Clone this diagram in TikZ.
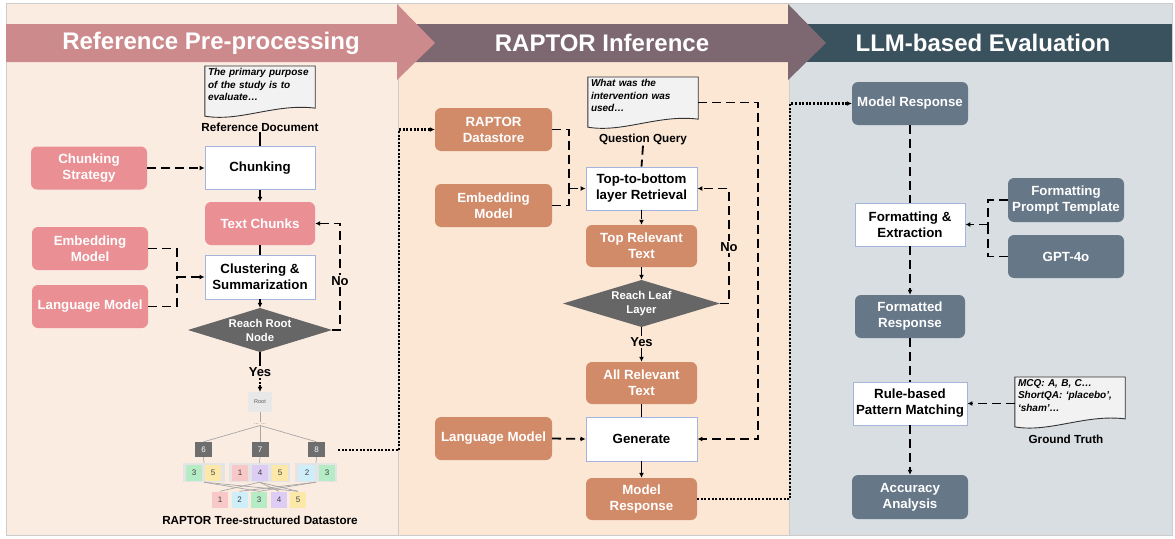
\documentclass[tikz,border=0pt]{standalone}
\usepackage{fontspec}
\setmainfont{Liberation Sans}
\usetikzlibrary{arrows.meta,calc,backgrounds}

\definecolor{panelA}{RGB}{251,236,226}
\definecolor{panelB}{RGB}{251,231,212}
\definecolor{panelC}{RGB}{217,222,226}
\definecolor{bandA}{RGB}{204,138,141}
\definecolor{bandB}{RGB}{125,104,113}
\definecolor{bandC}{RGB}{58,82,94}
\definecolor{pinkc}{RGB}{234,143,148}
\definecolor{orangec}{RGB}{210,139,105}
\definecolor{slatec}{RGB}{102,119,136}
\definecolor{diagc}{RGB}{102,102,102}
\definecolor{wborder}{RGB}{164,180,220}
\definecolor{docfill}{RGB}{242,242,242}
\definecolor{lpink}{RGB}{248,200,200}
\definecolor{lblue}{RGB}{206,239,250}
\definecolor{lgreen}{RGB}{181,236,198}
\definecolor{lpurple}{RGB}{221,205,245}
\definecolor{lyellow}{RGB}{252,232,168}
\definecolor{tgrey}{RGB}{110,110,110}
\definecolor{grpc}{RGB}{228,228,228}
\definecolor{rootc}{RGB}{232,232,232}

\newcommand\docshape[1]{\filldraw[fill=docfill, draw=black!80, line width=0.9pt]
  (#1.north west) -- ([yshift=-13pt]#1.south west)
  .. controls ([xshift=35pt,yshift=-19pt]#1.south west) and ([xshift=-40pt,yshift=0pt]#1.south east) ..
  ([yshift=-5pt]#1.south east) -- (#1.north east) -- cycle;}

\begin{document}
\begin{tikzpicture}[x=1pt,y=-1pt,
  lab/.style={font=\fontsize{13.3}{16}\selectfont\bfseries, align=center},
  wbox/.style={rectangle, draw=wborder, line width=0.9pt, fill=white, minimum width=110pt, minimum height=43pt, inner sep=1pt, lab, text=black},
  cbox/.style={rectangle, rounded corners=6pt, minimum width=116pt, minimum height=43pt, inner sep=1pt, lab, text=white},
  pinkbox/.style={cbox, fill=pinkc},
  orbox/.style={cbox, fill=orangec},
  slbox/.style={cbox, fill=slatec},
  decis/.style={rectangle, inner sep=0pt, minimum height=44pt, text=white, font=\fontsize{11.3}{14}\selectfont\bfseries, align=center,
    path picture={\fill[diagc] (path picture bounding box.west) -- (path picture bounding box.north) -- (path picture bounding box.east) -- (path picture bounding box.south) -- cycle;}},
  doctext/.style={rectangle, inner xsep=3pt, inner ysep=2.5pt, text width=104pt, align=left, font=\fontsize{10}{12.2}\selectfont\bfseries\itshape, anchor=north},
  doclabel/.style={font=\fontsize{11.7}{13}\selectfont\bfseries, inner sep=1pt},
  yn/.style={font=\fontsize{13}{15}\selectfont\bfseries, inner sep=1.5pt},
  bannertxt/.style={font=\fontsize{24}{28}\selectfont\bfseries, text=white},
  dline/.style={line width=1.8pt, dash pattern=on 9pt off 5pt},
  darr/.style={dline, -{Latex[length=5pt,width=5pt]}},
  sline/.style={line width=1.5pt},
  sarr/.style={sline, -{Latex[length=5pt,width=5pt]}},
  dotl/.style={line width=2.2pt, dash pattern=on 2pt off 1.6pt, -{Latex[length=5pt,width=5pt]}},
  leafsq/.style={rectangle, minimum size=16pt, inner sep=0pt, font=\fontsize{8}{8}\selectfont, text=black!75},
  tnode/.style={rectangle, fill=tgrey, minimum width=17pt, minimum height=15pt, inner sep=0pt, text=white, font=\fontsize{8}{8}\selectfont},
  grp/.style={rectangle, fill=grpc, inner sep=0pt, minimum height=19pt},
  tline/.style={draw=gray!70, line width=0.7pt}
]
\useasboundingbox (0,0) rectangle (1175,538);

% ---------- backgrounds and banners ----------
\begin{scope}[on background layer]
  \fill[white] (0,0) rectangle (1175,538);
  \filldraw[fill=panelA, draw=black!20, line width=0.5pt] (6,3) rectangle (398,535);
  \filldraw[fill=panelB, draw=black!20, line width=0.5pt] (398,3) rectangle (789,535);
  \filldraw[fill=panelC, draw=black!20, line width=0.5pt] (789,3) rectangle (1172,535);
  \fill[bandC] (789,24) rectangle (1172,62);
  \fill[bandB] (398,24) -- (788,24) -- (788,4) -- (826,43) -- (788,80) -- (788,62) -- (398,62) -- cycle;
  \fill[bandA] (6,24) -- (397,24) -- (397,4) -- (435,43) -- (397,80) -- (397,62) -- (6,62) -- cycle;
\end{scope}
\node[bannertxt] (h1) at (211,43) {Reference Pre-processing};
\node[bannertxt] (h2) at (602,43) {RAPTOR Inference};
\node[bannertxt] (h3) at (983,43) {LLM-based Evaluation};

% ---------- panel 1 ----------
\node[doctext] (rdoc) at (260,66) {The primary purpose\\of the study is to\\evaluate…};
\node[doclabel] (rdlab) at (260,127) {Reference Document};
\node[wbox] (chunk) at (260,168) {Chunking};
\node[pinkbox] (cstrat) at (89,168) {Chunking\\Strategy};
\node[pinkbox, minimum width=110pt] (tchunks) at (260,223.5) {Text Chunks};
\node[wbox, minimum height=44pt] (clus) at (260,277) {Clustering \&\\Summarization};
\node[pinkbox] (emb1) at (90,248.5) {Embedding\\Model};
\node[pinkbox] (lm1) at (90,306.5) {Language Model};
\node[decis, minimum width=144pt] (rroot) at (260,330) {Reach Root\\Node};
\node[yn] (yes1) at (260,372) {Yes};
\coordinate (j1) at (177,277);

% tree
\node[rectangle, fill=rootc, minimum width=24pt, minimum height=20pt, inner sep=0pt, font=\fontsize{5.5}{6}\selectfont, text=black!65] (root) at (260,402) {Root};
\node[font=\fontsize{6}{6}\selectfont, text=gray, inner sep=1pt] (dd) at (260,424) {... ...};
\node[tnode] (t6) at (203.5,449.5) {6};
\node[tnode] (t7) at (260,449.5) {7};
\node[tnode] (t8) at (316.5,449.5) {8};
\node[grp, minimum width=42pt] (g1) at (204,472.5) {};
\node[grp, minimum width=61pt] (g2) at (259.5,472.5) {};
\node[grp, minimum width=42pt] (g3) at (316,472.5) {};
\node[leafsq, fill=lgreen] (a3) at (194,473) {3};
\node[leafsq, fill=lyellow] (a5) at (213,473) {5};
\node[leafsq, fill=lpink] (b1) at (240,473) {1};
\node[leafsq, fill=lpurple] (b4) at (260,473) {4};
\node[leafsq, fill=lyellow] (b5) at (280,473) {5};
\node[leafsq, fill=lblue] (c2) at (307,473) {2};
\node[leafsq, fill=lgreen] (c3) at (327,473) {3};
\node[leafsq, fill=lpink] (l1) at (220,499.5) {1};
\node[leafsq, fill=lblue] (l2) at (239.5,499.5) {2};
\node[leafsq, fill=lgreen] (l3) at (259,499.5) {3};
\node[leafsq, fill=lpurple] (l4) at (279,499.5) {4};
\node[leafsq, fill=lyellow] (l5) at (298,499.5) {5};
\node[doclabel] (tlab) at (260,520) {RAPTOR Tree-structured Datastore};
\coordinate (tout) at (338,450);

\draw[tline] (root.south) -- (dd.north);
\draw[tline] (dd.south) -- (t6.north);
\draw[tline] (dd.south) -- (t7.north);
\draw[tline] (dd.south) -- (t8.north);
\draw[tline] (t6.south) -- (g1.north);
\draw[tline] (t7.south) -- (g2.north);
\draw[tline] (t8.south) -- (g3.north);
\draw[tline] (g1.south) -- (l3.north);
\draw[tline] (g1.south) -- (l5.north);
\draw[tline] (g2.south) -- (l1.north);
\draw[tline] (g2.south) -- (l4.north);
\draw[tline] (g2.south) -- (l5.north);
\draw[tline] (g3.south) -- (l2.north);
\draw[tline] (g3.south) -- (l3.north);

\draw[sline] (rdlab.south) -- (chunk.north);
\draw[darr] (cstrat.east) -- (chunk.west);
\draw[sarr] (chunk.south) -- (tchunks.north);
\draw[sline] (tchunks.south) -- (clus.north);
\draw[dline] (emb1.east) -| (j1);
\draw[dline] (lm1.east) -| (j1);
\draw[darr] (j1) -- (clus.west);
\draw[sarr] (clus.south) -- (rroot.north);
\draw[darr] (rroot.east) -- ++(8,0) |- (tchunks.east);
\draw[sline] (rroot.south) -- (yes1.north);
\draw[dotl] (yes1.south) -- (root.north);
\node[yn, fill=panelA] (no1) at (340,281) {No};

% ---------- panel 2 ----------
\node[orbox, minimum width=117pt] (rds) at (493.5,129.5) {RAPTOR\\Datastore};
\node[orbox, minimum width=117pt] (emb2) at (493.5,205.5) {Embedding\\Model};
\node[doctext] (qdoc) at (643,77) {What was the\\intervention was\\used…};
\node[doclabel] (qlab) at (643,139) {Question Query};
\node[wbox, minimum width=111pt] (t2b) at (641.5,188.5) {Top-to-bottom\\layer Retrieval};
\node[orbox, minimum width=111pt, minimum height=42pt] (trt) at (641.5,246) {Top Relevant\\Text};
\node[decis, minimum width=157pt, minimum height=47pt] (rleaf) at (641.5,303.5) {Reach Leaf\\Layer};
\node[yn] (yes2) at (641.5,342) {Yes};
\node[orbox, minimum width=111pt, minimum height=42pt] (art) at (641.5,383) {All Relevant\\Text};
\node[wbox, minimum width=111pt, minimum height=44pt] (gen) at (641.5,439) {Generate};
\node[orbox, minimum width=117pt] (lm2) at (493.5,438.5) {Language Model};
\node[orbox, minimum width=111pt, minimum height=42pt] (mr2) at (641.5,499) {Model\\Response};
\coordinate (j2) at (569,188.5);

\draw[dotl] (tout) -- ++(61,0) |- (rds.west);
\draw[dline] (rds.east) -| (j2);
\draw[dline] (emb2.east) -| (j2);
\draw[darr] (j2) -- (t2b.west);
\draw[dline] (qlab.south) -- (t2b.north);
\draw[darr] (t2b.south) -- (trt.north);
\draw[sarr] (trt.south) -- (rleaf.north);
\draw[darr] (rleaf.east) -- ++(9,0) |- (t2b.east);
\draw[sline] (rleaf.south) -- (yes2.north);
\draw[sarr] (yes2.south) -- (art.north);
\draw[sline] (art.south) -- (gen.north);
\draw[darr] (lm2.east) -- (gen.west);
\draw[darr] ([yshift=-7pt]qdoc.east) -- ++(60,0) |- (gen.east);
\draw[sarr] (gen.south) -- (mr2.north);
\node[yn, fill=panelB] (no2) at (729,247) {No};

% ---------- panel 3 ----------
\node[slbox] (mr3) at (910,103.5) {Model Response};
\node[wbox] (fe) at (910,224.5) {Formatting \&\\Extraction};
\node[slbox, minimum height=44pt] (fpt) at (1066,200) {Formatting\\Prompt Template};
\node[slbox] (gpt) at (1066,256.5) {GPT-4o};
\node[slbox, minimum width=110pt] (fr) at (910,316.5) {Formatted\\Response};
\node[wbox, minimum width=114pt] (rb) at (910,403.5) {Rule-based\\Pattern Matching};
\node[doctext] (gt) at (1070,377) {MCQ: A, B, C…\\ShortQA: ‘placebo’,\\‘sham’…};
\node[doclabel] (gtlab) at (1066,439) {Ground Truth};
\node[slbox, minimum height=44pt] (acc) at (910,497) {Accuracy\\Analysis};
\coordinate (j3) at (988,224.5);

\draw[dotl] (mr2.east) -- ++(93,0) |- (mr3.west);
\draw[dline] (mr3.south) -- (fe.north);
\draw[dline] (fpt.west) -| (j3);
\draw[dline] (gpt.west) -| (j3);
\draw[darr] (j3) -- (fe.east);
\draw[darr] (fe.south) -- (fr.north);
\draw[dline] (fr.south) -- (rb.north);
\draw[darr] (gt.west |- rb.east) -- (rb.east);
\draw[darr] (rb.south) -- (acc.north);

% document outlines (under their texts)
\begin{scope}[on background layer]
  \docshape{rdoc}
  \docshape{qdoc}
  \docshape{gt}
\end{scope}
\end{tikzpicture}
\end{document}
